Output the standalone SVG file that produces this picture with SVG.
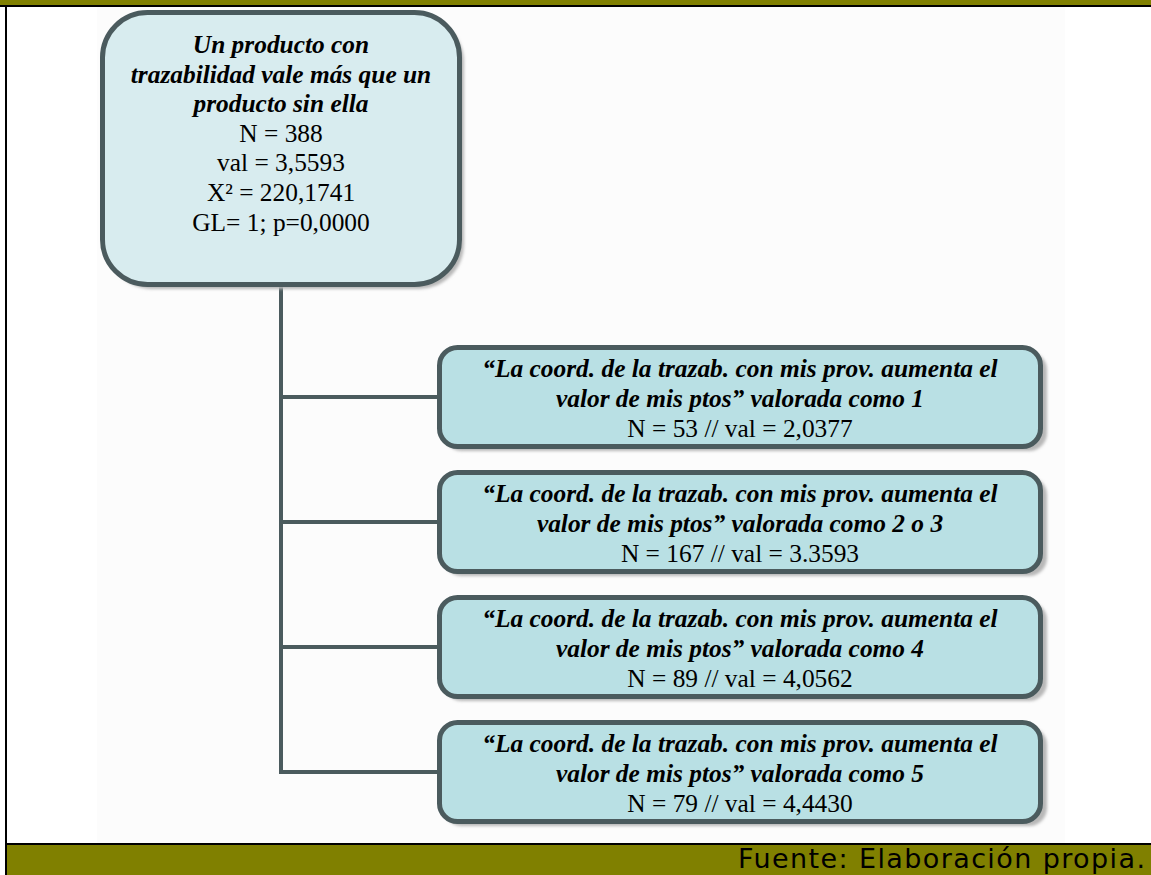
<svg xmlns="http://www.w3.org/2000/svg" width="1151" height="875" viewBox="0 0 1151 875">
<defs>
<filter id="blur" x="-10%" y="-10%" width="120%" height="120%"><feGaussianBlur stdDeviation="1.5"/></filter>
<style>
.box{stroke:#4b5b5e;stroke-width:5}
.root{fill:#d8ecef}
.child{fill:#b9e0e4}
.shadow{fill:#b8b8b8;filter:url(#blur)}
.conn{stroke:#4b5b5e;stroke-width:4;fill:none}
.t{font-family:"Liberation Serif","Times New Roman",serif;font-size:25.4px;fill:#000;text-anchor:middle}
.bi{font-weight:bold;font-style:italic}
.foot{font-family:"DejaVu Sans",Verdana,sans-serif;font-size:27px;fill:#000}
</style>
</defs>
<rect x="0" y="0" width="1151" height="875" fill="#ffffff"/>
<rect x="97" y="7" width="968" height="837" fill="#fcfcfc"/>
<rect x="0" y="0" width="1151" height="5" fill="#808000"/>
<rect x="0" y="5" width="1151" height="2" fill="#000"/>
<rect x="5" y="5" width="2" height="870" fill="#000"/>
<rect x="7" y="843" width="1144" height="2" fill="#000"/>
<rect x="7" y="845" width="1144" height="30" fill="#808000"/>
<text class="foot" x="738" y="868" textLength="407" lengthAdjust="spacing">Fuente: Elaboración propia.</text>

<g id="connectors">
<path class="conn" d="M281 287 V774"/>
<path class="conn" d="M281 397 H438 M281 522 H438 M281 647 H438 M281 772 H438"/>
</g>

<g id="root">
<rect class="shadow" x="107" y="17" width="357" height="272" rx="45"/>
<rect class="box root" x="102.5" y="12.5" width="357" height="272" rx="45"/>
<text class="t bi" x="281" y="53">Un producto con</text>
<text class="t bi" x="281" y="82.6">trazabilidad vale más que un</text>
<text class="t bi" x="281" y="112.2">producto sin ella</text>
<text class="t" x="281" y="141.8">N = 388</text>
<text class="t" x="281" y="171.4">val = 3,5593</text>
<text class="t" x="281" y="201">X² = 220,1741</text>
<text class="t" x="281" y="230.6">GL= 1; p=0,0000</text>
</g>

<g id="n1">
<rect class="shadow" x="444" y="352" width="603" height="99" rx="18"/>
<rect class="box child" x="439.5" y="347.5" width="601" height="99" rx="18"/>
<text class="t bi" x="740" y="377">“La coord. de la trazab. con mis prov. aumenta el</text>
<text class="t bi" x="740" y="407">valor de mis ptos” valorada como 1</text>
<text class="t" x="740" y="437">N = 53 // val = 2,0377</text>
</g>

<g id="n2">
<rect class="shadow" x="444" y="477" width="603" height="99" rx="18"/>
<rect class="box child" x="439.5" y="472.5" width="601" height="99" rx="18"/>
<text class="t bi" x="740" y="502">“La coord. de la trazab. con mis prov. aumenta el</text>
<text class="t bi" x="740" y="532">valor de mis ptos” valorada como 2 o 3</text>
<text class="t" x="740" y="562">N = 167 // val = 3.3593</text>
</g>

<g id="n3">
<rect class="shadow" x="444" y="602" width="603" height="99" rx="18"/>
<rect class="box child" x="439.5" y="597.5" width="601" height="99" rx="18"/>
<text class="t bi" x="740" y="627">“La coord. de la trazab. con mis prov. aumenta el</text>
<text class="t bi" x="740" y="657">valor de mis ptos” valorada como 4</text>
<text class="t" x="740" y="687">N = 89 // val = 4,0562</text>
</g>

<g id="n4">
<rect class="shadow" x="444" y="727" width="603" height="99" rx="18"/>
<rect class="box child" x="439.5" y="722.5" width="601" height="99" rx="18"/>
<text class="t bi" x="740" y="752">“La coord. de la trazab. con mis prov. aumenta el</text>
<text class="t bi" x="740" y="782">valor de mis ptos” valorada como 5</text>
<text class="t" x="740" y="812">N = 79 // val = 4,4430</text>
</g>
</svg>
